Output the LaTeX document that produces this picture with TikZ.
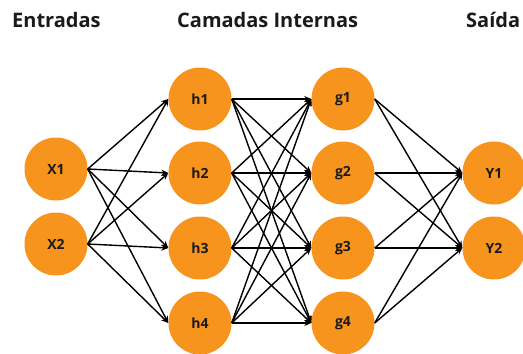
\documentclass[tikz,border=0pt]{standalone}
\usepackage{fontspec}
\setmainfont{Open Sans}
\usetikzlibrary{arrows.meta}
\definecolor{neuron}{RGB}{246,148,30}
\definecolor{ink}{RGB}{26,26,26}
\tikzset{
  neuron/.style={circle, fill=neuron, draw=none, minimum size=63pt, inner sep=0pt,
    font=\bfseries\fontsize{14}{16}\selectfont, text=ink},
  link/.style={draw=black, line width=1.4pt, -{Stealth[length=7pt,width=6pt]}},
  title/.style={font=\bfseries\fontsize{20}{24}\selectfont, text=ink, anchor=base west, inner sep=0pt}
}
\begin{document}
\begin{tikzpicture}[x=1pt,y=1pt]
  \path[use as bounding box] (0,0) rectangle (523,-354);
  % column titles
  \node[title] (tin)  at (12,-27)  {Entradas};
  \node[title] (thid) at (177,-27) {Camadas Internas};
  \node[title] (tout) at (466,-27) {Saída};
  % input layer
  \node[neuron] (X1) at (56,-169) {X1};
  \node[neuron] (X2) at (56,-244) {X2};
  % first hidden layer
  \node[neuron] (h1) at (200,-99)  {h1};
  \node[neuron] (h2) at (200,-173) {h2};
  \node[neuron] (h3) at (200,-248) {h3};
  \node[neuron] (h4) at (200,-323) {h4};
  % second hidden layer
  \node[neuron] (g1) at (343,-99)  {g1};
  \node[neuron] (g2) at (343,-173) {g2};
  \node[neuron] (g3) at (343,-248) {g3};
  \node[neuron] (g4) at (343,-323) {g4};
  % output layer
  \node[neuron] (Y1) at (494,-173) {Y1};
  \node[neuron] (Y2) at (494,-248) {Y2};
  % fully connected links
  \foreach \a in {X1,X2}
    \foreach \b in {h1,h2,h3,h4}
      \draw[link] (\a.east) -- (\b.west);
  \foreach \a in {h1,h2,h3,h4}
    \foreach \b in {g1,g2,g3,g4}
      \draw[link] (\a.east) -- (\b.west);
  \foreach \a in {g1,g2,g3,g4}
    \foreach \b in {Y1,Y2}
      \draw[link] (\a.east) -- (\b.west);
\end{tikzpicture}
\end{document}
